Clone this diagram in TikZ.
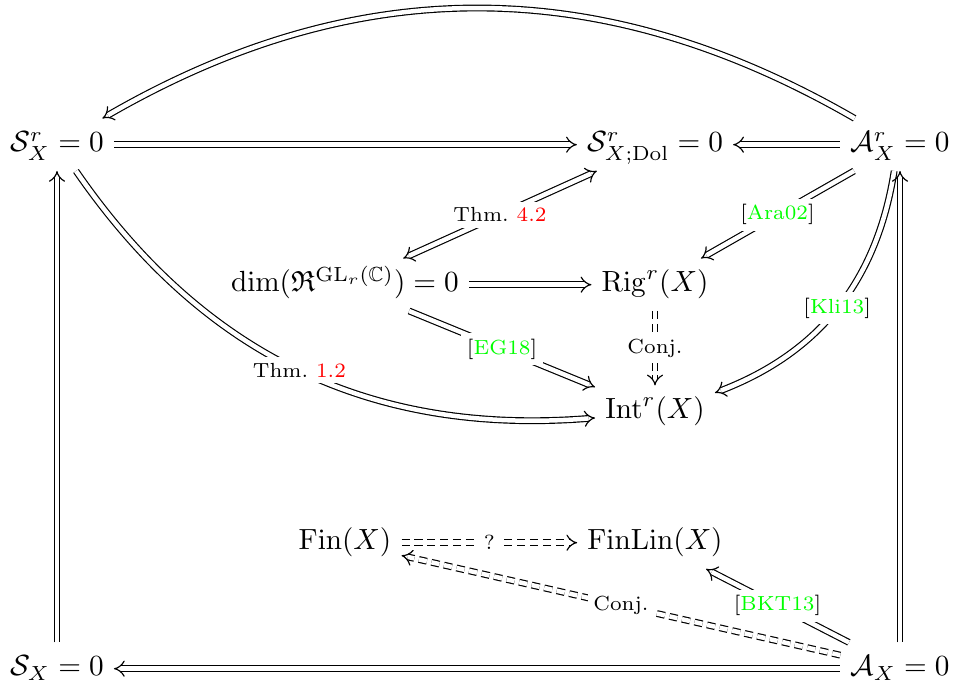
\documentclass[tikz,border=0pt]{standalone}
\usepackage{amsmath,amssymb}
\usetikzlibrary{arrows.meta}
\definecolor{lnk}{rgb}{1,0,0}
\definecolor{cit}{rgb}{0,1,0}
\begin{document}
\begin{tikzpicture}[x=0.3425pt,y=0.3425pt,
  cell/.style={anchor=base,inner sep=3.3pt,text height=8pt,text depth=3pt},
  arr/.style={double equal sign distance,-{Implies}},
  larr/.style={double equal sign distance,{Implies}-},
  lrarr/.style={double equal sign distance,{Implies}-{Implies}},
  dsh/.style={dash pattern=on 2.8pt off 1.6pt},
  lbl/.style={fill=white,inner sep=2pt,font=\scriptsize,anchor=center}]
\useasboundingbox (0,0) rectangle (954,684);
\node[cell] (SrX) at (57,532) {$\mathcal{S}^r_X=0$};
\node[cell] (Dol) at (655,532) {$\mathcal{S}^r_{X;\mathrm{Dol}}=0$};
\node[cell] (ArX) at (900,532) {$\mathcal{A}^r_X=0$};
\node[cell] (dim) at (345,392) {$\dim(\mathfrak{R}^{\mathrm{GL}_r(\mathbb{C})})=0$};
\node[cell] (Rig) at (655,392) {$\mathrm{Rig}^r(X)$};
\node[cell] (Int) at (655,265) {$\mathrm{Int}^r(X)$};
\node[cell] (Fin) at (345,134) {$\mathrm{Fin}(X)$};
\node[cell] (FinLin) at (655,134) {$\mathrm{FinLin}(X)$};
\node[cell] (SX) at (57,8) {$\mathcal{S}_X=0$};
\node[cell] (AX) at (900,8) {$\mathcal{A}_X=0$};
% arrows
\draw[arr] (ArX) to[bend right=30] (SrX);
\draw[arr] (SrX) -- (Dol);
\draw[larr] (Dol) -- (ArX);
\draw[lrarr] (dim) -- node[lbl]{Thm.\ \textcolor{lnk}{4.2}} (Dol);
\draw[arr] (dim) -- (Rig);
\draw[arr] (ArX) -- node[lbl]{[\textcolor{cit}{Ara02}]} (Rig);
\draw[arr,dsh] (Rig) -- node[lbl]{Conj.} (Int);
\draw[arr] (dim) -- node[lbl]{[\textcolor{cit}{EG18}]} (Int);
\draw[arr] (SrX) to[bend right=30] node[lbl]{Thm.\ \textcolor{lnk}{1.2}} (Int);
\draw[arr] (ArX) to[bend left=30] node[lbl]{[\textcolor{cit}{Kli13}]} (Int);
\draw[arr,dsh] (Fin) -- node[lbl]{?} (FinLin);
\draw[arr,dsh] (AX) -- node[lbl]{Conj.} (Fin);
\draw[arr] (AX) -- node[lbl]{[\textcolor{cit}{BKT13}]} (FinLin);
\draw[larr] (SX) -- (AX);
\draw[arr] (SX) -- (SrX);
\draw[arr] (AX) -- (ArX);
\end{tikzpicture}
\end{document}
